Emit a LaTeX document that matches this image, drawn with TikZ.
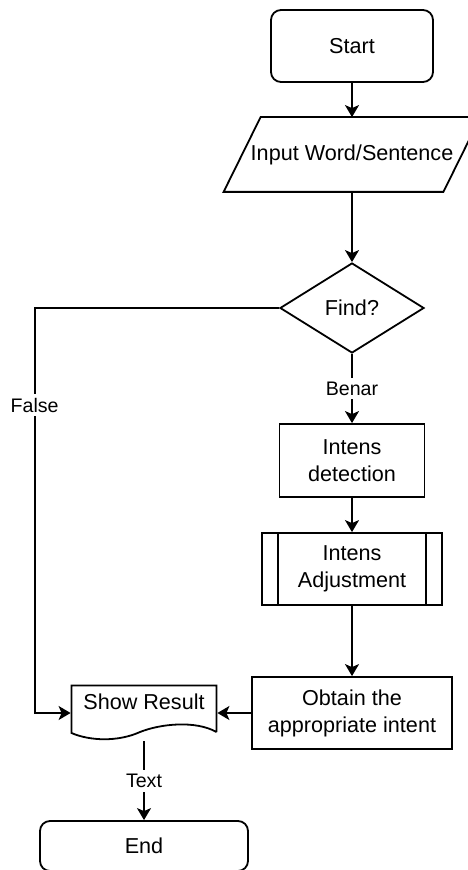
\documentclass[tikz,border=0pt]{standalone}
\usepackage{fontspec}
\setmainfont{Liberation Sans}
\usetikzlibrary{arrows.meta, shapes.geometric}

\begin{document}
\begin{tikzpicture}[x=0.5pt, y=-0.5pt, line width=0.9pt,
  >={Stealth[length=6pt, width=7pt, inset=1.5pt]},
  every node/.style={font=\fontsize{10.8}{13.5}\selectfont, align=center, inner sep=0pt},
  terminal/.style={draw, rounded corners=5pt},
  process/.style={draw, rectangle},
  lbl/.style={font=\fontsize{9.8}{12}\selectfont, fill=white, inner sep=2pt}]
  \useasboundingbox (0,0) rectangle (467,870);

  % main column
  \node[terminal, minimum width=81pt, minimum height=36pt] (start) at (352,46) {Start};
  \node[minimum width=109pt, minimum height=36.5pt] (inp) at (352,154.5) {Input Word/Sentence};
  \draw ([xshift=-9.25pt]inp.south west) -- ([xshift=9.25pt]inp.north west)
    -- ([xshift=9.25pt]inp.north east) -- ([xshift=-9.25pt]inp.south east) -- cycle;
  \node[draw, diamond, minimum width=72pt, minimum height=45pt] (find) at (352,308) {Find?};
  \node[process, minimum width=72.5pt, minimum height=36.5pt] (det) at (352,460.5) {Intens\\detection};
  \node[process, minimum width=90pt, minimum height=36pt] (adj) at (352,569) {Intens\\Adjustment};
  \draw ([xshift=8.5pt]adj.north west) -- ([xshift=8.5pt]adj.south west);
  \draw ([xshift=-8.5pt]adj.north east) -- ([xshift=-8.5pt]adj.south east);
  \node[process, minimum width=100pt, minimum height=36pt] (obt) at (352,713) {Obtain the\\appropriate intent};

  % result document and end
  \node[minimum width=72.5pt, minimum height=27.5pt, text height=8pt, text depth=11.8pt] (res) at (144,713) {Show Result};
  \draw (216.5,732) -- (216.5,685.5) -- (71.5,685.5) -- (71.5,733)
    .. controls (90,741) and (118,742) .. (140,732) .. controls (160,724) and (195,720) .. (216.5,732);
  \node[terminal, minimum width=104pt, minimum height=25pt] (stop) at (144,846) {End};

  \draw[->] (start) -- (inp);
  \draw[->] (inp) -- (find);
  \draw[->] (find) -- node[lbl] {Benar} (det);
  \draw[->] (det) -- (adj);
  \draw[->] (adj) -- (obt);
  \draw[->] (obt) -- (res);
  \draw[->] (find.west) -| node[lbl, pos=0.62] {False} ([xshift=-18pt]res.west) -- (res.west);
  \draw[->] (res) -- node[lbl] {Text} (stop);
\end{tikzpicture}
\end{document}
